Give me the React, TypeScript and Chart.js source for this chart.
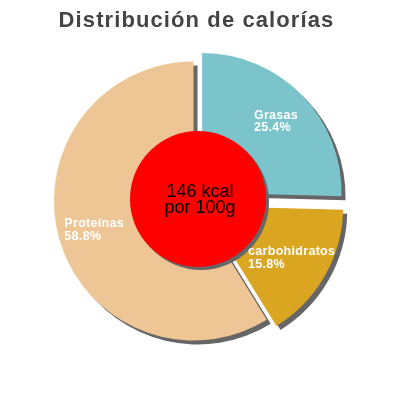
import { useEffect, useRef } from 'react';
import { Chart, registerables } from 'chart.js';
import type { Plugin } from 'chart.js';

Chart.register(...registerables);

const TITLE = 'Distribución de calorías';
const LABELS = ['Grasas', 'carbohidratos', 'Proteínas'];
const PERCENTS = [25.4, 15.8, 58.8];
const COLORS = ['#7bc4cc', '#daa520', '#eec594'];
const OFFSETS = [48, 40, 0];
const CENTER_LINES = ['146 kcal', 'por 100g'];

const FAMILY = '"Liberation Sans", Arial, sans-serif';

// title drawn by hand so it can sit a little right of the pie centre
const titlePlugin: Plugin<'pie'> = {
  id: 'titleText',
  afterDraw(chart) {
    const ctx = chart.ctx;
    ctx.save();
    (ctx as any).letterSpacing = '1.1px';
    ctx.font = `bold 22px ${FAMILY}`;
    ctx.fillStyle = '#444444';
    ctx.textAlign = 'center';
    ctx.textBaseline = 'alphabetic';
    ctx.fillText(TITLE, 196.5, 26.5);
    ctx.restore();
  },
};

// drop shadow under the slices
const sliceShadow: Plugin<'pie'> = {
  id: 'sliceShadow',
  beforeDatasetsDraw(chart) {
    const ctx = chart.ctx;
    const dpr = chart.currentDevicePixelRatio;
    ctx.save();
    ctx.shadowColor = '#666666';
    ctx.shadowOffsetX = 4 * dpr;
    ctx.shadowOffsetY = 4 * dpr;
    ctx.shadowBlur = 0;
  },
  afterDatasetsDraw(chart) {
    chart.ctx.restore();
  },
};

// red disc with the energy value
const centerDisc: Plugin<'pie'> = {
  id: 'centerDisc',
  afterDatasetsDraw(chart) {
    const arc = chart.getDatasetMeta(0).data[0] as any;
    if (!arc) return;
    const { x, y, outerRadius } = arc.getProps(['x', 'y', 'outerRadius'], true);
    const ctx = chart.ctx;
    const dpr = chart.currentDevicePixelRatio;
    ctx.save();
    ctx.shadowColor = '#666666';
    ctx.shadowOffsetX = 3 * dpr;
    ctx.shadowOffsetY = 3 * dpr;
    ctx.beginPath();
    ctx.arc(x + 4.5, y - 2, outerRadius * 0.4875, 0, Math.PI * 2);
    ctx.fillStyle = '#ff0000';
    ctx.fill();
    ctx.restore();

    ctx.save();
    ctx.fillStyle = '#000000';
    ctx.font = `18px ${FAMILY}`;
    ctx.textAlign = 'center';
    ctx.textBaseline = 'alphabetic';
    ctx.fillText(CENTER_LINES[0], x + 6.5, y - 4.3);
    ctx.fillText(CENTER_LINES[1], x + 6.5, y + 12.3);
    ctx.restore();
  },
};

// white labels inside the slices
const sliceLabels: Plugin<'pie'> = {
  id: 'sliceLabels',
  afterDatasetsDraw(chart) {
    const ctx = chart.ctx;
    const meta = chart.getDatasetMeta(0);
    ctx.save();
    ctx.fillStyle = '#ffffff';
    ctx.font = `bold 12.5px ${FAMILY}`;
    (ctx as any).letterSpacing = '0.3px';
    ctx.textAlign = 'left';
    ctx.textBaseline = 'alphabetic';
    meta.data.forEach((el, i) => {
      const { x, y, startAngle, endAngle, outerRadius } = (el as any).getProps(
        ['x', 'y', 'startAngle', 'endAngle', 'outerRadius'],
        true
      );
      const shift = ((el as any).options.offset || 0) / 4;
      const mid = (startAngle + endAngle) / 2;
      const dist = shift + outerRadius * 0.74;
      const px = x + Math.cos(mid) * dist;
      const py = y + Math.sin(mid) * dist;
      const lines = [LABELS[i], PERCENTS[i].toFixed(1) + '%'];
      const w = Math.max(...lines.map(l => ctx.measureText(l).width));
      const left = px - w / 2;
      ctx.fillText(lines[0], left, py - 2);
      ctx.fillText(lines[1], left, py + 10.7);
    });
    ctx.restore();
  },
};

export default function App() {
  const canvasRef = useRef<HTMLCanvasElement>(null);
  const chartRef = useRef<Chart<'pie'> | null>(null);

  useEffect(() => {
    if (!canvasRef.current) return;
    const existing = Chart.getChart(canvasRef.current);
    if (existing) existing.destroy();
    chartRef.current?.destroy();

    chartRef.current = new Chart(canvasRef.current, {
      type: 'pie',
      data: {
        labels: LABELS,
        datasets: [{
          data: PERCENTS,
          backgroundColor: COLORS,
          offset: OFFSETS,
          borderWidth: 0,
          clip: false,
        }],
      },
      options: {
        responsive: false,
        animation: false,
        layout: { padding: { top: 37.5, left: 30, right: 43, bottom: 35.5 } },
        plugins: {
          legend: { display: false },
          tooltip: { enabled: false },
          title: { display: false },
        },
      },
      plugins: [sliceShadow, centerDisc, sliceLabels, titlePlugin],
    });

    return () => { chartRef.current?.destroy(); chartRef.current = null; };
  }, []);

  return (
    <div style={{ position: 'absolute', left: 0, top: 0, width: 400, height: 400, background: '#fff' }}>
      <canvas ref={canvasRef} width={400} height={400} />
    </div>
  );
}
